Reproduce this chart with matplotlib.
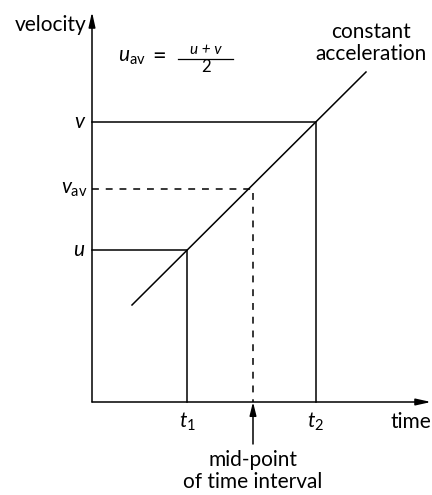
import matplotlib
matplotlib.use("Agg")
import matplotlib.pyplot as plt

# Data (abstract units, origin at axes crossing)
t1, t2 = 95, 224
u, v = 152, 280
t_mid, v_av = 161, 213
line_t = [40, 274]
line_v = [97, 330]
x_end, y_end = 339, 390

FONT = "Lato"
plt.rcParams['font.family'] = [FONT, 'DejaVu Sans']
plt.rcParams['mathtext.fontset'] = 'custom'
plt.rcParams['mathtext.rm'] = FONT
plt.rcParams['mathtext.it'] = FONT + ':italic'

fig = plt.figure(figsize=(4.32, 4.95), dpi=100)
ax = fig.add_axes([0, 0, 1, 1])
ax.set_xlim(-92, 340)
ax.set_ylim(-93, 402)
ax.axis('off')

lw = 1.1
k = 'black'
# axes with arrows
ax.annotate('', xy=(0, y_end), xytext=(0, 0),
            arrowprops=dict(arrowstyle='-|>,head_length=0.9,head_width=0.2', lw=lw, color=k, shrinkA=0, shrinkB=0))
ax.annotate('', xy=(x_end, 0), xytext=(0, 0),
            arrowprops=dict(arrowstyle='-|>,head_length=0.9,head_width=0.2', lw=lw, color=k, shrinkA=0, shrinkB=0))

# acceleration line
ax.plot(line_t, line_v, color=k, lw=lw)
# u and v guide lines
ax.plot([0, t1, t1], [u, u, 0], color=k, lw=lw)
ax.plot([0, t2, t2], [v, v, 0], color=k, lw=lw)
# dashed average
ax.plot([0, t_mid, t_mid], [v_av, v_av, 0], color=k, lw=lw, dashes=(4.5, 4.5))

# mid-point arrow
ax.annotate('', xy=(t_mid, 0), xytext=(t_mid, -42),
            arrowprops=dict(arrowstyle='-|>,head_length=0.8,head_width=0.2', lw=lw, color=k, shrinkA=0, shrinkB=0))

fs = 15
# axis labels
ax.text(-5, 377, 'velocity', fontsize=fs, ha='right', va='center')
ax.text(339, -20, 'time', fontsize=fs, ha='right', va='center')
ax.text(279, 359, 'constant\nacceleration', fontsize=fs, ha='center', va='center', linespacing=1.1)
ax.text(t_mid, -69, 'mid-point\nof time interval', fontsize=fs, ha='center', va='center', linespacing=1.15)

# y labels
ax.text(-8, v, 'v', fontsize=fs, style='italic', ha='right', va='center')
ax.text(-8, u, 'u', fontsize=fs, style='italic', ha='right', va='center')
ax.text(-4, v_av, r'$\mathit{v}_{\mathrm{av}}$', fontsize=fs, ha='right', va='center')

# x labels
ax.text(t1, -20, r'$\mathit{t}_{\mathrm{1}}$', fontsize=fs, ha='center', va='center')
ax.text(t2, -20, r'$\mathit{t}_{\mathrm{2}}$', fontsize=fs, ha='center', va='center')

# formula
ax.text(26, 345, r'$\mathit{u}_{\mathrm{av}}$', fontsize=fs, ha='left', va='center')
ax.text(60, 346, '=', fontsize=17, ha='left', va='center')
ax.plot([86, 141], [343, 343], color=k, lw=0.9)
ax.text(113.5, 352, 'u + v', fontsize=11, style='italic', ha='center', va='center')
ax.text(114, 335, '2', fontsize=12, ha='center', va='center')

fig.savefig('out.png', dpi=100)
